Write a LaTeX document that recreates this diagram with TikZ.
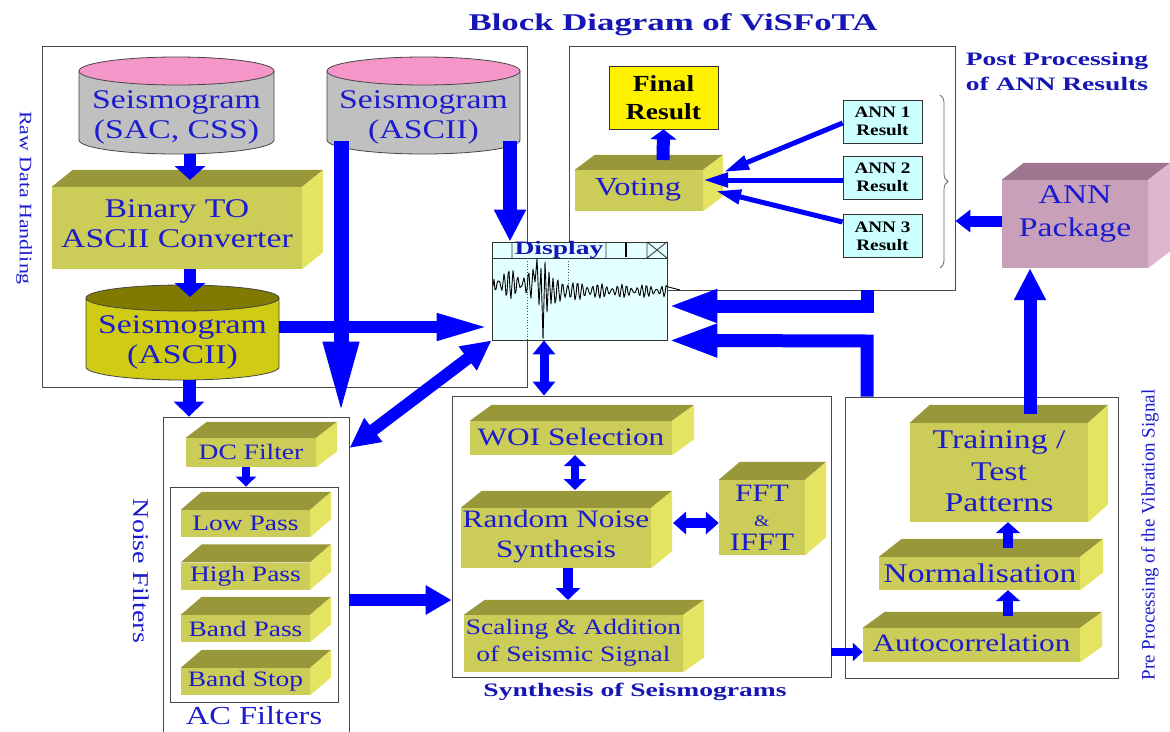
\documentclass[tikz,border=0pt]{standalone}
\usepackage{fontspec}
\setmainfont{Liberation Serif}
\newfontfamily\wrm{Liberation Serif}[FakeStretch=1.25]
\newfontfamily\wbf{Liberation Serif Bold}[FakeStretch=1.45]
\newfontfamily\mbf{Liberation Serif Bold}[FakeStretch=1.2]
\usetikzlibrary{arrows.meta,calc,decorations.pathreplacing}
\definecolor{tblue}{RGB}{28,28,205}
\definecolor{hblue}{RGB}{22,22,180}
\definecolor{ablue}{RGB}{0,0,255}
\definecolor{olF}{RGB}{204,204,88}
\definecolor{olT}{RGB}{152,152,58}
\definecolor{olS}{RGB}{228,228,98}
\definecolor{pkF}{RGB}{200,160,185}
\definecolor{pkT}{RGB}{158,118,143}
\definecolor{pkS}{RGB}{222,182,207}
\definecolor{cyTop}{RGB}{245,150,200}
\definecolor{cyBody}{RGB}{192,192,192}
\definecolor{c3Top}{RGB}{128,122,0}
\definecolor{c3Body}{RGB}{208,204,20}
\definecolor{cyEdge}{RGB}{70,70,70}
\definecolor{dispF}{RGB}{228,255,255}
\definecolor{annF}{RGB}{204,255,255}
\newcommand\fs[2]{\fontsize{#1}{#2}\selectfont}
\newcommand\cubeTS[5]{%
  \fill[#4] (#1.north west) -- ($(#1.north west)+(#2,-#3)$) -- ($(#1.north east)+(#2,-#3)$) -- (#1.north east) -- cycle;
  \fill[#5] (#1.north east) -- ($(#1.north east)+(#2,-#3)$) -- ($(#1.south east)+(#2,-#3)$) -- (#1.south east) -- cycle;}
\newcommand\cyl[8]{%
  \fill[#8] ({#2-#5},#3) -- ({#2-#5},#4) arc[start angle=180,end angle=360,x radius=#5pt,y radius=#6pt] -- ({#2+#5},#3) -- cycle;
  \draw[cyEdge,line width=0.8pt] ({#2-#5},#3) -- ({#2-#5},#4) arc[start angle=180,end angle=360,x radius=#5pt,y radius=#6pt] -- ({#2+#5},#3);
  \filldraw[fill=#7,draw=cyEdge,line width=0.8pt] (#2,#3) ellipse[x radius=#5pt,y radius=#6pt];
  \node[inner sep=0pt,minimum width={2*#5},minimum height={#4-#3+2*#6}] (#1) at (#2,{(#3+#4)/2}) {};}
\tikzset{
  grp/.style={draw=black!72, line width=0.9pt, inner sep=0pt},
  face/.style={inner sep=0pt, fill=olF},
  pface/.style={inner sep=0pt, fill=pkF},
  txt/.style={text=tblue, align=center, inner sep=0pt},
  hd/.style={text=hblue, align=center, inner sep=0pt, font=\wbf\fs{19}{25}},
  annbox/.style={draw=black!80, line width=0.8pt, fill=annF, minimum width=79, minimum height=43, inner sep=0pt, align=center, font=\mbf\fs{16}{18}},
  fat/.style n args={3}{draw=ablue, line width=#1pt, -{Triangle[length=#2pt,width=#3pt]}},
  fatd/.style n args={3}{draw=ablue, line width=#1pt, {Triangle[length=#2pt,width=#3pt]}-{Triangle[length=#2pt,width=#3pt]}},
}
\begin{document}
\begin{tikzpicture}[x=1pt,y=-1pt]
\useasboundingbox (0,0) rectangle (1170,731);
\fill[white] (0,0) rectangle (1170,731);

% group boxes
\node[grp, minimum width=485, minimum height=341] (raw) at (284.5,216.5) {};
\node[grp, minimum width=386, minimum height=244] (post) at (762,168) {};
\node[grp, minimum width=186, minimum height=328] (noise) at (256,581) {};
\node[grp, minimum width=168, minimum height=215] (acbox) at (254,594.5) {};
\node[grp, minimum width=379, minimum height=281] (synth) at (641.5,536.5) {};
\node[grp, minimum width=273, minimum height=281] (pre) at (981.5,537.5) {};

% titles / labels
\node[hd, font=\wbf\fs{24}{26}] (title) at (673,25) {Block Diagram of ViSFoTA};
\node[txt, font=\wrm\fs{17.5}{20}, rotate=-90] (rawlab) at (24,198) {Raw Data Handling};
\node[hd] (postlab) at (1057,72) {Post Processing\\of ANN Results};
\node[txt, font=\wrm\fs{22.5}{24}, rotate=-90] (noiselab) at (141,571) {Noise Filters};
\node[txt, font=\wrm\fs{26}{28}] (aclab) at (254,716) {AC Filters};
\node[hd] (synthlab) at (635,692) {Synthesis of Seismograms};
\node[txt, font=\fs{19}{21}, rotate=90] (prelab) at (1150,535) {Pre Processing of the Vibration Signal};

% cylinders
\cyl{cylA}{176.5}{71}{140}{97.5}{14}{cyTop}{cyBody}
\cyl{cylB}{423.5}{71}{140}{96.5}{14}{cyTop}{cyBody}
\cyl{cylC}{182.5}{298}{367}{96.5}{13}{c3Top}{c3Body}
\node[txt, font=\wrm\fs{27}{30}] (cylAt) at (176.5,117) {Seismogram\\(SAC, CSS)};
\node[txt, font=\wrm\fs{27}{30}] (cylBt) at (423.5,117) {Seismogram\\(ASCII)};
\node[txt, font=\wrm\fs{27}{30}] (cylCt) at (182.5,342) {Seismogram\\(ASCII)};

% 3D boxes
\node[face, minimum width=250, minimum height=82] (conv) at (177,228) {};
\cubeTS{conv}{21}{17}{olT}{olS}
\node[txt, font=\wrm\fs{27}{30}] (convt) at (177,224) {Binary TO\\ASCII Converter};

\node[face, minimum width=128, minimum height=41] (vote) at (639,190.5) {};
\cubeTS{vote}{20}{15}{olT}{olS}
\node[txt, font=\wrm\fs{26}{28}] (votet) at (638,190) {Voting};

\node[pface, minimum width=146, minimum height=88] (annp) at (1075,224) {};
\cubeTS{annp}{22}{17}{pkT}{pkS}
\node[txt, font=\wrm\fs{27}{33}] (annpt) at (1075,214) {ANN\\Package};

\node[face, minimum width=130, minimum height=29] (dc) at (251,452.5) {};
\cubeTS{dc}{21}{16}{olT}{olS}
\node[txt, font=\wrm\fs{22}{24}] (dct) at (251,452) {DC Filter};

\node[face, minimum width=129, minimum height=27] (low) at (245.5,523.5) {};
\cubeTS{low}{21}{18}{olT}{olS}
\node[txt, font=\wrm\fs{22}{24}] (lowt) at (245.5,523.5) {Low Pass};
\node[face, minimum width=129, minimum height=27] (high) at (245.5,576) {};
\cubeTS{high}{21}{18}{olT}{olS}
\node[txt, font=\wrm\fs{22}{24}] (hight) at (245.5,576) {High Pass};
\node[face, minimum width=129, minimum height=27] (bpass) at (245.5,628.5) {};
\cubeTS{bpass}{21}{18}{olT}{olS}
\node[txt, font=\wrm\fs{22}{24}] (bpasst) at (245.5,628.5) {Band Pass};
\node[face, minimum width=129, minimum height=27] (bstop) at (245.5,681.5) {};
\cubeTS{bstop}{21}{18}{olT}{olS}
\node[txt, font=\wrm\fs{22}{24}] (bstopt) at (245.5,681.5) {Band Stop};

\node[face, minimum width=202, minimum height=34] (woi) at (571,438) {};
\cubeTS{woi}{22}{16}{olT}{olS}
\node[txt, font=\wrm\fs{25}{27}] (woit) at (571,437) {WOI Selection};

\node[face, minimum width=190, minimum height=60] (rns) at (556,538) {};
\cubeTS{rns}{21}{17}{olT}{olS}
\node[txt, font=\wrm\fs{25}{30}] (rnst) at (556,537) {Random Noise\\Synthesis};

\node[face, minimum width=86, minimum height=75] (fft) at (762,517.5) {};
\cubeTS{fft}{21}{18}{olT}{olS}
\node[txt, font=\wrm\fs{25}{24.5}] (fftt) at (762,518) {FFT\\{\fs{16}{16}\&}\\IFFT};

\node[face, minimum width=219, minimum height=57] (scal) at (573.5,643.5) {};
\cubeTS{scal}{21}{15}{olT}{olS}
\node[txt, font=\wrm\fs{22}{27}] (scalt) at (573.5,643) {Scaling \& Addition\\of Seismic Signal};

\node[face, minimum width=178, minimum height=99] (train) at (999,472.5) {};
\cubeTS{train}{20}{18}{olT}{olS}
\node[txt, font=\wrm\fs{27}{31.5}] (traint) at (999,471.5) {Training /\\Test\\Patterns};

\node[face, minimum width=201, minimum height=33] (norm) at (979.5,573.5) {};
\cubeTS{norm}{23}{18}{olT}{olS}
\node[txt, font=\wrm\fs{27}{29}] (normt) at (980,573) {Normalisation};

\node[face, minimum width=217, minimum height=34] (auto) at (971.5,645) {};
\cubeTS{auto}{22}{16}{olT}{olS}
\node[txt, font=\wrm\fs{25}{27}] (autot) at (971.5,643) {Autocorrelation};

% post-processing content
\node[draw=black!80, fill=yellow, line width=0.8pt, minimum width=109, minimum height=63, inner sep=0pt, align=center, font=\mbf\fs{23}{28}] (final) at (663.5,97.5) {Final\\Result};
\node[annbox] (ann1) at (882.5,121.5) {ANN 1\\Result};
\node[annbox] (ann2) at (882.5,177.5) {ANN 2\\Result};
\node[annbox] (ann3) at (882.5,236) {ANN 3\\Result};
\draw[black!60, line width=0.8pt, decorate, decoration={brace, amplitude=8pt}] (940,95) -- (940,268);

% display window
\node[draw=black!80, fill=dispF, line width=0.8pt, minimum width=175, minimum height=98, inner sep=0pt] (disp) at (579.5,291) {};
\draw[black!80, line width=0.8pt] (disp.north west |- 0,258) -- (disp.north east |- 0,258);
\draw[black!80, line width=0.8pt] (512,242) -- (512,258) (606,242) -- (606,258) (647,242) -- (647,258) (647,242) -- (667,258) (647,258) -- (667,242);
\draw[black, line width=2pt] (626,243) -- (626,257);
\node[hd, font=\wbf\fs{19}{20}] (dispt) at (559,250) {Display};
\draw[black!70, dotted, line width=0.8pt] (527,258) -- (527,340) (568,258) -- (568,284);
\draw[black, line width=0.9pt, line join=round]
  (493,286) -- plot[domain=4:43, samples=40] ({490+\x}, {284 + 9*sin(73*\x) + 6*sin(89*\x+40)})
  -- (535,282) -- (537,259) -- (539,305) -- (541,268) -- (543,339) -- (545,262) -- (547,312) -- (549,272) -- (551,304) -- (553,278)
  -- plot[domain=65:177, samples=113] ({490+\x}, {291 + (4+7*exp(-(\x-65)/25))*sin(73*\x) + 2.5*sin(89*\x+40)})
  -- (680,290);

% arrows
\draw[fat={12}{14}{30}] (cylA.south -| 190,0) -- (190,180);
\draw[fat={12}{14}{30}] (conv.south -| 190,0) -- (190,297);
\draw[fat={12}{55}{24}] (cylC.east |- 0,327) -- (disp.west |- 0,327);
\draw[fat={15}{75}{32}] (341,141) -- (noise.north -| 341,0);
\draw[fat={14}{32}{30}] (510,141) -- (disp.north -| 510,0);
\draw[fat={13}{15}{30}] (cylC.south -| 189,0) -- (noise.north -| 189,0);
\draw[fatd={12}{30}{28}] (disp.south west) -- (noise.north east |- 0,448);
\draw[fatd={9}{14}{22}] (disp.south -| 544,0) -- (synth.north -| 544,0);
\draw[fat={13}{50}{30}, line join=miter] (post.south -| 867,0) -- (867,306) -- (disp.east |- 0,306);
\draw[fat={13}{50}{30}, line join=miter] (pre.north -| 867,0) -- (867,341) -- (disp.south east);
\draw[fat={11}{15}{22}] (annp.west |- 0,221) -- (post.east |- 0,221);
\draw[fat={13}{32}{30}] (1030,414) -- (annp.south -| 1030,0);
\draw[fat={13}{10}{26}] (663,160) -- (final.south);
\draw[fat={5}{25}{14}] (ann1.west |- 0,123) -- (724,172);
\draw[fat={5}{25}{14}] (ann2.west |- 0,180) -- (vote.east |- 0,180);
\draw[fat={5}{25}{14}] (ann3.west |- 0,222) -- (716,191);
\draw[fat={8}{10}{20}] (dc.south -| 246,0) -- (acbox.north -| 246,0);
\draw[fat={12}{26}{28}] (noise.east |- 0,600) -- (synth.west |- 0,600);
\draw[fatd={8}{11}{22}] (woi.south -| 575,0) -- (575,490);
\draw[fatd={10}{13}{22}] (673,523) -- (fft.west |- 0,523);
\draw[fat={10}{12}{24}] (rns.south -| 568,0) -- (568,600);
\draw[fat={8}{10}{18}] (synth.east |- 0,652) -- (auto.west |- 0,652);
\draw[fat={10}{11}{24}] (1008,616) -- (norm.south -| 1008,0);
\draw[fat={10}{11}{24}] (1008,548) -- (train.south -| 1008,0);
\end{tikzpicture}
\end{document}
